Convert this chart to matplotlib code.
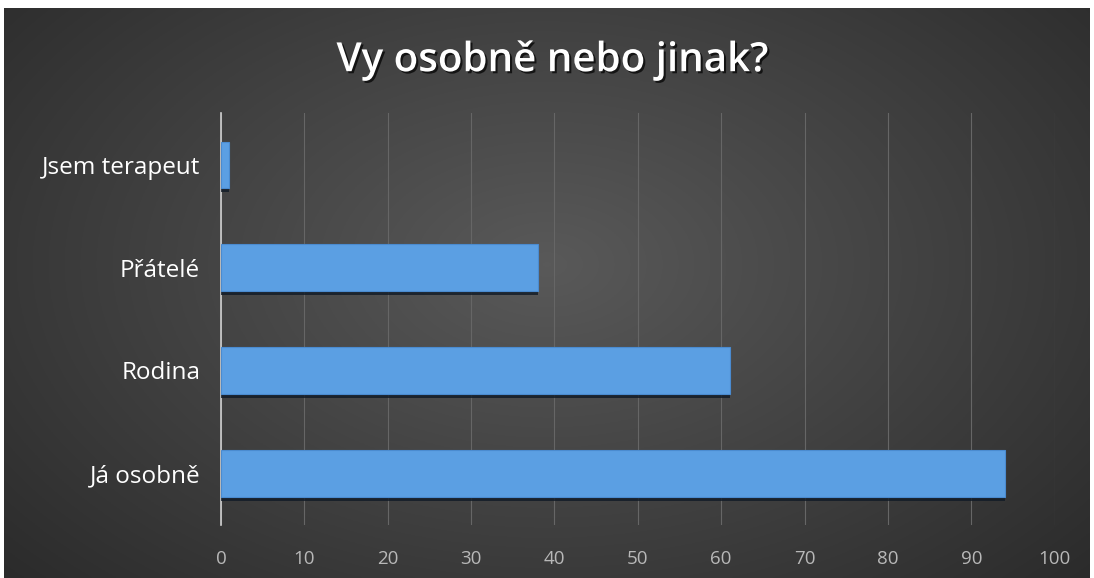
import matplotlib.pyplot as plt
import matplotlib.patheffects as pe
import numpy as np

categories = ['Já osobně', 'Rodina', 'Přátelé', 'Jsem terapeut']
values = [94, 61, 38, 1]
xticks = [0, 10, 20, 30, 40, 50, 60, 70, 80, 90, 100]
title = 'Vy osobně nebo jinak?'

plt.rcParams['font.family'] = ['Open Sans', 'DejaVu Sans']

fig = plt.figure(figsize=(10.94, 5.78), dpi=100)
fig.patch.set_facecolor('white')

# dark radial background
bg = fig.add_axes([0.004, 0, 0.992, 0.986])
yy, xx = np.mgrid[0:1:300j, 0:1:600j]
r = np.sqrt(((xx - 0.5) / 0.75) ** 2 + ((yy - 0.45) / 0.9) ** 2)
shade = np.clip(0.35 - 0.2 * r, 0.16, 0.35)
bg.imshow(np.dstack([shade, shade, shade]), aspect='auto', extent=[0, 1, 0, 1])
bg.axis('off')

ax = fig.add_axes([0.202, 0.092, 0.762, 0.712])
ax.set_facecolor('none')
y = np.arange(len(categories))
bars = ax.barh(y, values, height=0.45, color='#5b9fe3', edgecolor='#4a8bd0', linewidth=0.8, zorder=3)
for b in bars:
    b.set_path_effects([pe.SimplePatchShadow(offset=(0, -3), shadow_rgbFace='#101a26', alpha=0.8), pe.Normal()])

ax.set_xlim(0, 100)
ax.set_ylim(-0.5, 3.5)
ax.set_xticks(xticks)
ax.set_xticklabels([str(t) for t in xticks], color='#b8b8b8', fontsize=13.5)
ax.set_yticks(y)
ax.set_yticklabels(categories, color='white', fontsize=17.5)
ax.tick_params(length=0, pad=15)
ax.tick_params(axis='x', pad=18)
ax.grid(axis='x', color='#666666', linewidth=0.8, zorder=0)
for s in ['top', 'right', 'bottom']:
    ax.spines[s].set_visible(False)
ax.spines['left'].set_color('#d0d0d0')
ax.spines['left'].set_linewidth(1.2)

fig.text(0.505, 0.895, title, ha='center', va='center', color='white', fontsize=29, fontweight='semibold',
         path_effects=[pe.withSimplePatchShadow(offset=(1.5, -1.5), shadow_rgbFace='black', alpha=0.7)])

fig.savefig('out.png', dpi=100)
